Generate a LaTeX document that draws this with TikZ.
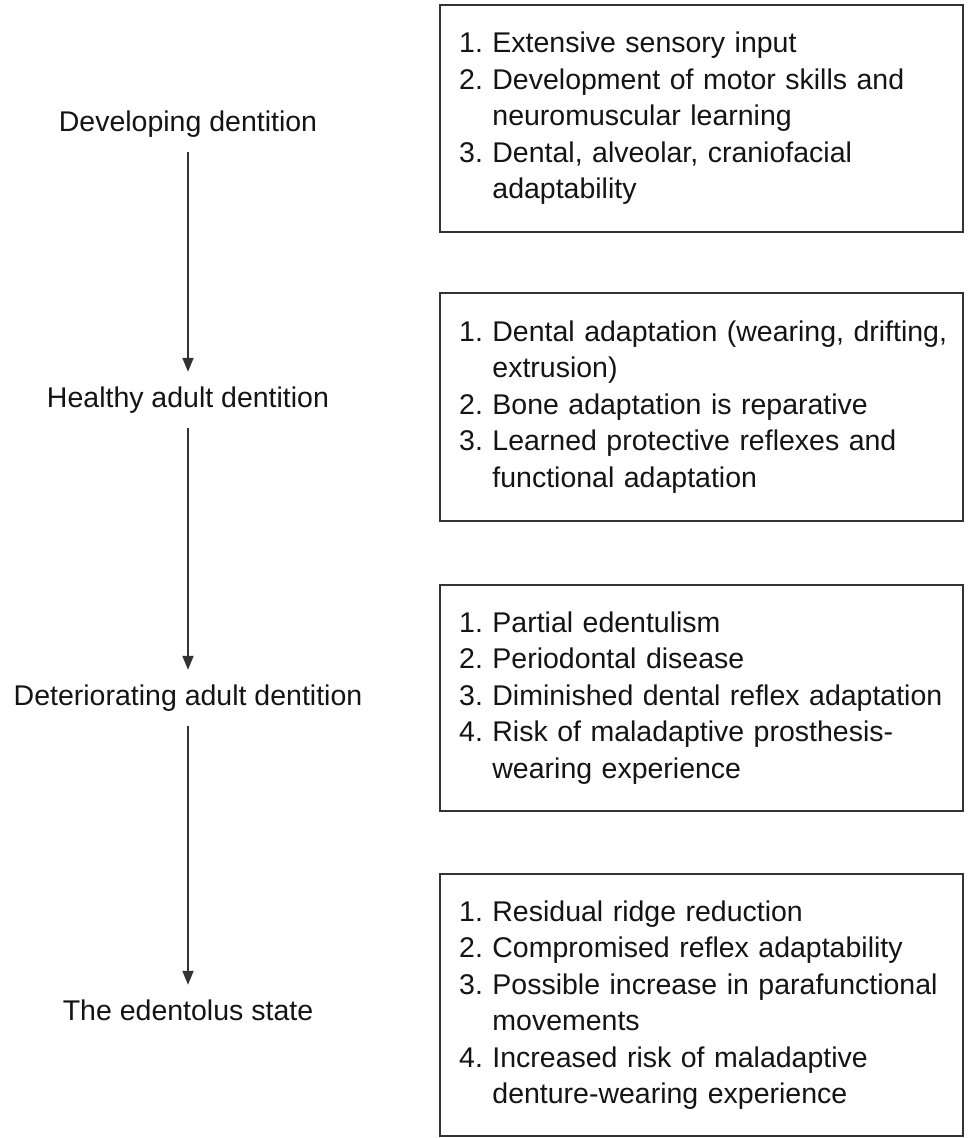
\documentclass[tikz,border=0pt]{standalone}
\usepackage{fontspec}
\setmainfont{Liberation Sans}
\usetikzlibrary{arrows.meta}
\definecolor{ink}{HTML}{141414}
\definecolor{rule}{HTML}{333333}
\begin{document}
\begin{tikzpicture}[x=1pt,y=-1pt,
  txt/.style={font=\fontsize{28.5}{36.5}\selectfont, text=ink},
  stage/.style={txt, inner sep=0pt, text height=21pt, text depth=6pt, minimum height=56pt, anchor=center},
  infobox/.style={txt, draw=rule, line width=2.3pt, anchor=north west, minimum width=523pt,
    text width=485pt, inner xsep=19pt, inner ysep=0pt, align=left},
  flow/.style={draw=rule, line width=1.8pt, -{Triangle[length=14pt,width=11pt]}}]
\useasboundingbox (0,0) rectangle (971,1138);
\fill[white] (0,0) rectangle (971,1138);

\node[stage] (s1) at (188,124) {Developing dentition};
\node[stage] (s2) at (188,400) {Healthy adult dentition};
\node[stage] (s3) at (188,698) {Deteriorating adult dentition};
\node[stage] (s4) at (188,1013) {The edentolus state};

\draw[flow] (s1.south) -- (s2.north);
\draw[flow] (s2.south) -- (s3.north);
\draw[flow] (s3.south) -- (s4.north);

\node[infobox, minimum height=227pt] (b1) at (439,4) {\begin{tabular}{@{}l@{\ }l@{}}
1. & Extensive sensory input\\
2. & Development of motor skills and\\
   & neuromuscular learning\\
3. & Dental, alveolar, craniofacial\\
   & adaptability
\end{tabular}};

\node[infobox, minimum height=228pt] (b2) at (439,292) {\begin{tabular}{@{}l@{\ }l@{}}
1. & Dental adaptation (wearing, drifting,\\
   & extrusion)\\
2. & Bone adaptation is reparative\\
3. & Learned protective reflexes and\\
   & functional adaptation
\end{tabular}};

\node[infobox, minimum height=226pt] (b3) at (439,584) {\begin{tabular}{@{}l@{\ }l@{}}
1. & Partial edentulism\\
2. & Periodontal disease\\
3. & Diminished dental reflex adaptation\\
4. & Risk of maladaptive prosthesis-\\
   & wearing experience
\end{tabular}};

\node[infobox, minimum height=262pt] (b4) at (439,873) {\begin{tabular}{@{}l@{\ }l@{}}
1. & Residual ridge reduction\\
2. & Compromised reflex adaptability\\
3. & Possible increase in parafunctional\\
   & movements\\
4. & Increased risk of maladaptive\\
   & denture-wearing experience
\end{tabular}};
\end{tikzpicture}
\end{document}
